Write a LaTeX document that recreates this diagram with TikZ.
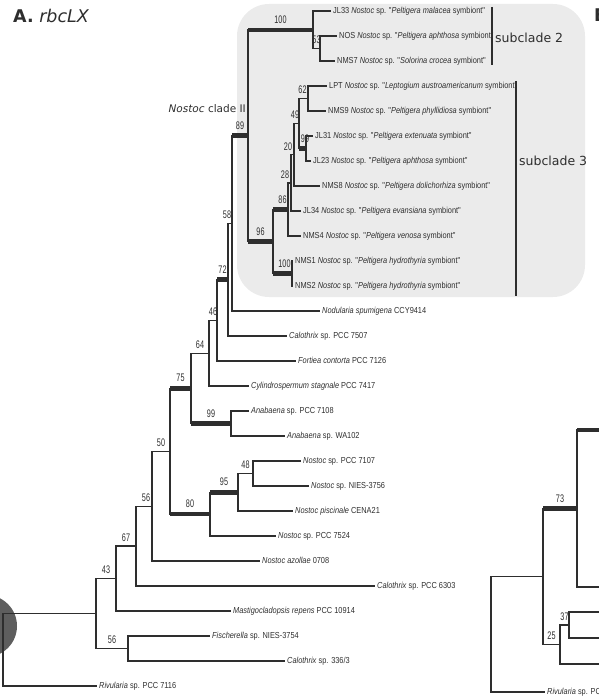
\documentclass[tikz,border=0pt]{standalone}
\usepackage{fontspec}
\newfontfamily\treefont[FakeStretch=0.85]{Liberation Sans}
\newfontfamily\bootfont[FakeStretch=0.66]{Liberation Sans}
\newfontfamily\headfont{DejaVu Sans}
\definecolor{boxgray}{HTML}{EBEBEB}
\definecolor{linegray}{HTML}{2E2E2E}
\definecolor{rootgray}{HTML}{5E5E5E}
\tikzset{
  br/.style={draw=linegray, line width=1.2pt},
  bar/.style={draw=linegray, line width=4.5pt},
  boot/.style={above=3.5pt, inner sep=0.5pt, text=linegray, font=\bootfont\fontsize{11}{11}\selectfont},
  tip/.style={anchor=west, inner xsep=2pt, inner ysep=0pt, text height=6pt, text depth=1.5pt, text=linegray, font=\treefont\fontsize{8.7}{9}\selectfont},
  head/.style={anchor=base west, inner sep=0pt, text=linegray},
}
\begin{document}
\begin{tikzpicture}[x=1pt, y=-1pt]
	\useasboundingbox (0,0) rectangle (598,698);

	% shaded clade and root marker
	\fill[boxgray, rounded corners=32pt] (237,4) rectangle (585,297);
	\fill[rootgray] (-14,626) circle (31pt);

	% headings
	\node[head, font=\headfont\fontsize{17.5}{18}\selectfont] (headA) at (13,23) {\textbf{A.} \textit{rbcLX}};
	\node[head, font=\headfont\bfseries\fontsize{17.5}{18}\selectfont] (headB) at (594,22) {B.};
	\node[head, anchor=base east, font=\headfont\fontsize{10.5}{11}\selectfont] (cladeII) at (246,113) {\textit{Nostoc} clade II};
	\node[head, font=\headfont\fontsize{12.5}{13}\selectfont] (sub2) at (495,43) {subclade 2};
	\node[head, font=\headfont\fontsize{12.5}{13}\selectfont] (sub3) at (519,165) {subclade 3};
	\draw[br, line width=1.3pt] (492,7) -- (492,65);
	\draw[br, line width=1.3pt] (516,81) -- (516,296);

	% tips
	\node[tip] (t0) at (331,11) {JL33 \textit{Nostoc} sp. "\textit{Peltigera malacea} symbiont"};
	\node[tip] (t1) at (337,36) {NOS \textit{Nostoc} sp. "\textit{Peltigera aphthosa} symbiont"};
	\node[tip] (t2) at (335,61) {NMS7 \textit{Nostoc} sp. "\textit{Solorina crocea} symbiont"};
	\node[tip] (t3) at (327,86) {LPT \textit{Nostoc} sp. "\textit{Leptogium austroamericanum} symbiont"};
	\node[tip] (t4) at (326,111) {NMS9 \textit{Nostoc} sp. "\textit{Peltigera phyllidiosa} symbiont"};
	\node[tip] (t5) at (313,136) {JL31 \textit{Nostoc} sp. "\textit{Peltigera extenuata} symbiont"};
	\node[tip] (t6) at (311,161) {JL23 \textit{Nostoc} sp. "\textit{Peltigera aphthosa} symbiont"};
	\node[tip] (t7) at (320,186) {NMS8 \textit{Nostoc} sp. "\textit{Peltigera dolichorhiza} symbiont"};
	\node[tip] (t8) at (301,211) {JL34 \textit{Nostoc} sp. "\textit{Peltigera evansiana} symbiont"};
	\node[tip] (t9) at (301,236) {NMS4 \textit{Nostoc} sp. "\textit{Peltigera venosa} symbiont"};
	\node[tip] (t10) at (293,261) {NMS1 \textit{Nostoc} sp. "\textit{Peltigera hydrothyria} symbiont"};
	\node[tip] (t11) at (293,286) {NMS2 \textit{Nostoc} sp. "\textit{Peltigera hydrothyria} symbiont"};
	\node[tip] (t12) at (320,311) {\textit{Nodularia spumigena} CCY9414};
	\node[tip] (t13) at (287,336) {\textit{Calothrix} sp. PCC 7507};
	\node[tip] (t14) at (296,361) {\textit{Fortiea contorta} PCC 7126};
	\node[tip] (t15) at (249,386) {\textit{Cylindrospermum stagnale} PCC 7417};
	\node[tip] (t16) at (249,411) {\textit{Anabaena} sp. PCC 7108};
	\node[tip] (t17) at (285,436) {\textit{Anabaena} sp. WA102};
	\node[tip] (t18) at (301,461) {\textit{Nostoc} sp. PCC 7107};
	\node[tip] (t19) at (309,486) {\textit{Nostoc} sp. NIES-3756};
	\node[tip] (t20) at (293,511) {\textit{Nostoc piscinale} CENA21};
	\node[tip] (t21) at (276,536) {\textit{Nostoc} sp. PCC 7524};
	\node[tip] (t22) at (260,561) {\textit{Nostoc azollae} 0708};
	\node[tip] (t23) at (375,586) {\textit{Calothrix} sp. PCC 6303};
	\node[tip] (t24) at (231,611) {\textit{Mastigocladopsis repens} PCC 10914};
	\node[tip] (t25) at (210,636) {\textit{Fischerella} sp. NIES-3754};
	\node[tip] (t26) at (285,661) {\textit{Calothrix} sp. 336/3};
	\node[tip] (t27) at (97,686) {\textit{Rivularia} sp. PCC 7116};

	% internal nodes
	\coordinate (nRoot) at (3,650);
	\coordinate (nA) at (96,613.5);
	\coordinate (n43) at (116,578.5);
	\coordinate (n56b) at (128,648.5);
	\coordinate (n67) at (136,546);
	\coordinate (n56a) at (152,506.1);
	\coordinate (n50) at (170,451.2);
	\coordinate (n75) at (191,388.3);
	\coordinate (n80) at (210,514.1);
	\coordinate (n95) at (238,492.3);
	\coordinate (n48) at (253,473.5);
	\coordinate (n64) at (209,353.2);
	\coordinate (n99a) at (231,423.5);
	\coordinate (n46) at (217,320.3);
	\coordinate (n72) at (228,279.7);
	\coordinate (n58) at (232,223.3);
	\coordinate (n89) at (248,135.6);
	\coordinate (n100a) at (313,29.8);
	\coordinate (n53) at (320,48.5);
	\coordinate (n96) at (273,241.5);
	\coordinate (n86) at (288,209.4);
	\coordinate (n100b) at (292,273.5);
	\coordinate (n28) at (291,182.9);
	\coordinate (n20) at (294,154.8);
	\coordinate (n49) at (299,123.5);
	\coordinate (n62) at (308,98.5);
	\coordinate (n99b) at (306,148.5);

	% branches
	\draw[br] (nRoot) |- (nA);
	\draw[br] (nRoot) |- (t27.west);
	\draw[br] (nA) |- (n43) node[boot, pos=.75]{43};
	\draw[br] (nA) |- (n56b) node[boot, pos=.75]{56};
	\draw[br] (n56b) |- (t25.west);
	\draw[br] (n56b) |- (t26.west);
	\draw[br] (n43) |- (n67) node[boot, pos=.75]{67};
	\draw[br] (n43) |- (t24.west);
	\draw[br] (n67) |- (n56a) node[boot, pos=.75, xshift=2pt]{56};
	\draw[br] (n67) |- (t23.west);
	\draw[br] (n56a) |- (n50) node[boot, pos=.75]{50};
	\draw[br] (n56a) |- (t22.west);
	\draw[br] (n50) |- (n75);
	\draw[bar] (n50 |- n75) -- (n75) node[boot, midway]{75};
	\draw[br] (n50) |- (n80);
	\draw[bar] (n50 |- n80) -- (n80) node[boot, midway]{80};
	\draw[br] (n80) |- (n95);
	\draw[bar] (n80 |- n95) -- (n95) node[boot, midway]{95};
	\draw[br] (n80) |- (t21.west);
	\draw[br] (n95) |- (n48) node[boot, pos=.75]{48};
	\draw[br] (n95) |- (t20.west);
	\draw[br] (n48) |- (t18.west);
	\draw[br] (n48) |- (t19.west);
	\draw[br] (n75) |- (n64) node[boot, pos=.75]{64};
	\draw[br] (n75) |- (n99a);
	\draw[bar] (n75 |- n99a) -- (n99a) node[boot, midway]{99};
	\draw[br] (n99a) |- (t16.west);
	\draw[br] (n99a) |- (t17.west);
	\draw[br] (n64) |- (n46) node[boot, pos=.75]{46};
	\draw[br] (n64) |- (t15.west);
	\draw[br] (n46) |- (n72);
	\draw[bar] (n46 |- n72) -- (n72) node[boot, midway]{72};
	\draw[br] (n46) |- (t14.west);
	\draw[br] (n72) |- (n58) node[boot, pos=.75, xshift=-3pt]{58};
	\draw[br] (n72) |- (t13.west);
	\draw[br] (n58) |- (n89);
	\draw[bar] (n58 |- n89) -- (n89) node[boot, midway]{89};
	\draw[br] (n58) |- (t12.west);

	% Nostoc clade II
	\draw[br] (n89) |- (n100a);
	\draw[bar] (n89 |- n100a) -- (n100a) node[boot, midway]{100};
	\draw[br] (n89) |- (n96);
	\draw[bar] (n89 |- n96) -- (n96) node[boot, midway]{96};
	\draw[br] (n100a) |- (t0.west);
	\draw[br] (n100a) |- (n53) node[boot, pos=.75]{53};
	\draw[br] (n53) |- (t1.west);
	\draw[br] (n53) |- (t2.west);
	\draw[br] (n96) |- (n86);
	\draw[bar] (n96 |- n86) -- (n86) node[boot, midway, xshift=2pt]{86};
	\draw[br] (n96) |- (n100b);
	\draw[bar] (n96 |- n100b) -- (n100b) node[boot, midway, xshift=2pt]{100};
	\draw[br] (n100b) |- (t10.west);
	\draw[br] (n100b) |- (t11.west);
	\draw[br] (n86) |- (n28) node[boot, pos=.75, xshift=-4.5pt]{28};
	\draw[br] (n86) |- (t9.west);
	\draw[br] (n28) |- (n20) node[boot, pos=.75, xshift=-4.5pt]{20};
	\draw[br] (n28) |- (t8.west);
	\draw[br] (n20) |- (n49) node[boot, pos=.75, xshift=-1.5pt]{49};
	\draw[br] (n20) |- (t7.west);
	\draw[br] (n49) |- (n62) node[boot, pos=.75, xshift=-1pt]{62};
	\draw[br] (n49) |- (n99b);
	\draw[bar] (n49 |- n99b) -- (n99b) node[boot, midway, xshift=2.5pt]{99};
	\draw[br] (n62) |- (t3.west);
	\draw[br] (n62) |- (t4.west);
	\draw[br] (n99b) |- (t5.west);
	\draw[br] (n99b) |- (t6.west);

	% panel B, cut at the edge
	\coordinate (b0) at (491,634.3);
	\coordinate (b73) at (543,576.5);
	\coordinate (bTop) at (577,508.5);
	\coordinate (b25) at (560,644.5);
	\coordinate (b37) at (569,625);
	\coordinate (bt1) at (620,430);
	\coordinate (bt2) at (620,587);
	\coordinate (bt3) at (620,612);
	\coordinate (bt4) at (620,638);
	\coordinate (bt5) at (620,664);
	\node[tip] (bt6) at (545,692) {\textit{Rivularia} sp. PCC 7116};
	\draw[br] (b0) |- (b73);
	\draw[br] (b0) |- (bt6.west);
	\draw[br] (b73) |- (bTop);
	\draw[bar] (b73 |- bTop) -- (bTop) node[boot, midway]{73};
	\draw[br] (b73) |- (b25) node[boot, pos=.75]{25};
	\draw[br] (bTop) |- (bt1);
	\draw[bar] (bTop |- bt1) -- (bt1);
	\draw[br] (bTop) |- (bt2);
	\draw[br] (b25) |- (b37) node[boot, pos=.75]{37};
	\draw[br] (b25) |- (bt5);
	\draw[br] (b37) |- (bt3);
	\draw[br] (b37) |- (bt4);
\end{tikzpicture}
\end{document}
